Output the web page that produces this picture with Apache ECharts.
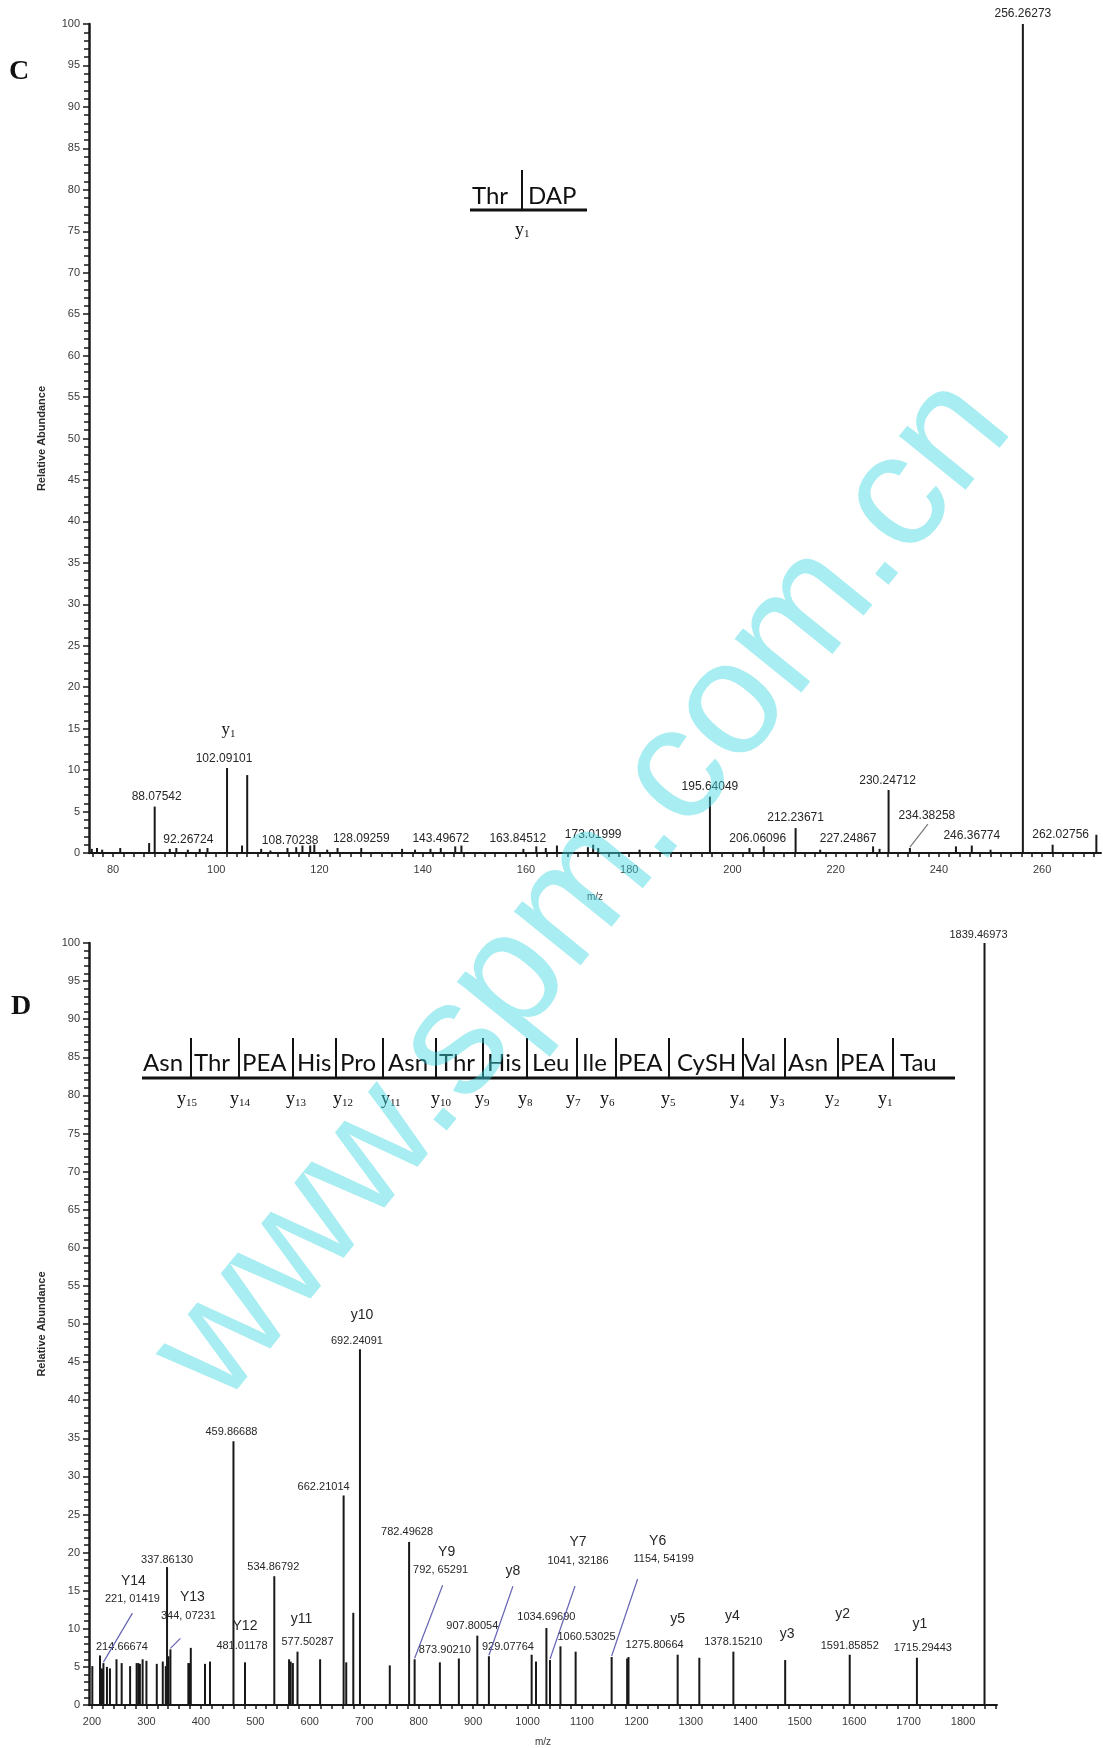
<!DOCTYPE html>
<html>
<head>
<meta charset="utf-8">
<script src="https://cdn.jsdelivr.net/npm/echarts@6/dist/echarts.min.js"></script>
<style>
html,body{margin:0;padding:0;background:#fff}
#chart{width:1103px;height:1748px}
</style>
</head>
<body>
<div id="chart"></div>
<script>
// ---------- Panel C : product-ion spectrum, m/z 75–271 ----------
// annotated peaks (label text is the m/z value itself)
const cLabMz  = [88.07542, 92.26724, 102.09101, 108.70238, 128.09259, 143.49672, 163.84512, 173.01999,
                 195.64049, 206.06096, 212.23671, 227.24867, 230.24712, 234.38258, 246.36774, 256.26273, 262.02756];
const cLabInt = [5.6, 0.6, 10.25, 0.5, 0.6, 0.6, 0.6, 1.0,
                 6.8, 0.8, 3.0, 0.8, 7.6, 0.6, 0.9, 100, 1.0];
// other peaks
const cMz  = [75.9, 76.9, 77.9, 81.4, 87.0, 91.0, 94.5, 96.8, 98.3, 105.0, 106.0, 110.5, 113.8, 115.5, 116.7,
              118.2, 119.0, 121.5, 123.5, 136.0, 138.5, 141.5, 146.3, 147.5, 159.5, 162.0, 166.0, 172.0, 174.0,
              182.0, 203.3, 217.0, 228.5, 243.3, 250.0, 270.5];
const cInt = [0.5, 0.6, 0.4, 0.6, 1.2, 0.5, 0.4, 0.5, 0.6, 0.9, 9.4, 0.3, 0.6, 0.7, 0.9,
              0.9, 1.0, 0.4, 0.6, 0.5, 0.4, 0.5, 0.8, 0.9, 0.5, 0.8, 0.9, 0.7, 0.6,
              0.4, 0.6, 0.4, 0.5, 0.8, 0.4, 2.2];
const cXLabels = [80, 100, 120, 140, 160, 180, 200, 220, 240, 260];
const cIonName = ['y'];
const cIonSub  = ['1'];
const cIonMz   = [102.09101];

// ---------- Panel D : product-ion spectrum, m/z 195–1862 ----------
const dLabMz  = [214.66674, 221.01419, 337.86130, 344.07231, 459.86688, 481.01178, 534.86792, 577.50287,
                 662.21014, 692.24091, 782.49628, 792.65291, 873.90210, 907.80054, 929.07764, 1034.69690,
                 1041.32186, 1060.53025, 1154.54199, 1275.80664, 1378.15210, 1591.85852, 1715.29443, 1839.46973];
const dLabInt = [6.5, 5.5, 18.1, 7.3, 34.6, 5.6, 16.9, 7.0,
                 27.5, 46.7, 21.4, 6.0, 6.1, 9.1, 6.4, 10.1,
                 5.9, 7.7, 6.3, 6.6, 7.0, 6.6, 6.2, 100];
// values written with a comma separator in the annotations
const dCommaMz = [221.01419, 344.07231, 792.65291, 1041.32186, 1154.54199];
const dMz  = [200.6, 216.2, 218.0, 219.6, 227.5, 233.0, 245.0, 254.5, 270.0, 282.0, 285.0, 288.0, 293.0,
              300.0, 319.0, 330.0, 335.5, 340.5, 377.0, 379.0, 381.5, 407.6, 416.8, 562.0, 565.0, 569.0,
              619.0, 667.0, 680.0, 747.0, 839.0, 1007.6, 1015.6, 1088.4, 1183.0, 1185.5, 1315.6, 1473.3];
const dInt = [5.1, 4.6, 4.8, 4.6, 5.0, 4.8, 6.0, 5.5, 5.1, 5.5, 5.5, 5.4, 6.0,
              5.8, 5.4, 5.7, 5.1, 6.4, 5.5, 5.5, 7.5, 5.4, 5.7, 6.0, 5.7, 5.5,
              6.0, 5.6, 12.1, 5.2, 5.6, 6.6, 5.7, 7.0, 6.1, 6.3, 6.2, 5.9];
const dXLabels = [200, 300, 400, 500, 600, 700, 800, 900, 1000, 1100, 1200, 1300, 1400, 1500, 1600, 1700, 1800];
const dIonName = ['Y14', 'Y13', 'Y12', 'y11', 'y10', 'Y9', 'y8', 'Y7', 'Y6', 'y5', 'y4', 'y3', 'y2', 'y1'];
const dIonMz   = [221.01419, 344.07231, 481.01178, 577.50287, 692.24091, 792.65291, 929.07764,
                  1041.32186, 1154.54199, 1275.80664, 1378.15210, 1473.3, 1591.85852, 1715.29443];

// peptide sequences drawn above the spectra
const cResidues = ['Thr', 'DAP'];
const dResidues = ['Asn','Thr','PEA','His','Pro','Asn','Thr','His','Leu','Ile','PEA','CySH','Val','Asn','PEA','Tau'];
const dSeqIons  = ['15','14','13','12','11','10','9','8','7','6','5','4','3','2','1'];

// ---------- layout / styling ----------
const SANS = '"Liberation Sans", Arial, sans-serif';
const SERIF = '"Liberation Serif", "Times New Roman", serif';
const INK = '#181818';
const LEAD_BLUE = '#6464b4';

// label offsets (px, label centre relative to the peak apex)
const cLabOffset = [[2,-10],[12,-8],[-3,-9],[29,-8],[0,-9],[0,-9],[-28,-9],[0,-10],
                    [0,-10],[-6,-8],[0,-10],[-25,-8],[-1,-9],[17,-32],[0,-10],[0,-10],[8,-10]];
const cLabLeader = {13: [1, 8, '#777']};
const cIonOffset = [[5,-38]];

const dLabOffset = [[22,-9],[29,-64],[0,-7],[18,-33],[-2,-9],[-3,-16],[-1,-9],[10,-10],
                    [-20,-8],[-3,-8],[-2,-10],[26,-89],[-14,-9],[-5,-10],[19,-9],[0,-11],
                    [28,-99],[26,-9],[52,-98],[-23,-10],[0,-10],[0,-9],[6,-10],[-6,-8]];
const dLabLeader = {1: [0, 14, LEAD_BLUE], 3: [-8, 22, LEAD_BLUE], 11: [2, 15, LEAD_BLUE],
                    16: [-3, 25, LEAD_BLUE], 18: [-26, 20, LEAD_BLUE]};
const dIonOffset = [[30,-82],[22,-52],[0,-36],[4,-33],[2,-34],[32,-107],[24,-85],[28,-118],
                    [46,-116],[0,-36],[-1,-36],[2,-26],[-7,-41],[3,-34]];
const dIonLeader = {6: [0, 15, LEAD_BLUE]};

function fmtMz(m, commaList) {
  const s = m.toFixed(5);
  return commaList && commaList.indexOf(m) >= 0 ? s.replace('.', ', ') : s;
}
function lookupInt(m, mzA, intA, mzB, intB) {
  let i = mzA.indexOf(m);
  if (i >= 0) return intA[i];
  i = mzB.indexOf(m);
  return i >= 0 ? intB[i] : 0;
}
function range(a, b, step) { const r = []; for (let v = a; v <= b + 1e-9; v += step) r.push(v); return r; }

function txt(text, x, y, font, fill, align, valign, extra) {
  return Object.assign({ type: 'text', x: x, y: y,
    style: { text: text, font: font, fill: fill, textAlign: align, textVerticalAlign: valign,
             align: align, verticalAlign: valign } }, extra || {});
}

function stickSeries(gi, mz, inten, width) {
  return {
    type: 'custom', xAxisIndex: gi, yAxisIndex: gi, silent: true, clip: false, z: 3,
    data: mz.map((m, i) => [m, inten[i]]),
    renderItem(params, api) {
      const b = api.coord([api.value(0), 0]);
      const t = api.coord([api.value(0), api.value(1)]);
      return { type: 'line', shape: { x1: b[0], y1: b[1], x2: t[0], y2: t[1] },
               style: { stroke: INK, lineWidth: width } };
    }
  };
}

// text annotations anchored on peak apexes, optionally with a leader line back to the peak
function labelSeries(gi, mz, inten, texts, offsets, leaders, font, subs) {
  return {
    type: 'custom', xAxisIndex: gi, yAxisIndex: gi, silent: true, clip: false, z: 5,
    data: mz.map((m, i) => [m, inten[i]]),
    renderItem(params, api) {
      const i = params.dataIndex;
      const t = api.coord([api.value(0), api.value(1)]);
      const o = offsets[i] || [0, -9];
      const cx = t[0] + o[0], cy = t[1] + o[1];
      const kids = [];
      if (subs) {
        kids.push(txt(texts[i], cx - 2, cy, font, INK, 'right', 'middle'));
        kids.push(txt(subs[i], cx - 2, cy + 4, '11px ' + SERIF, INK, 'left', 'middle'));
      } else {
        kids.push(txt(texts[i], cx, cy, font, '#262626', 'center', 'middle'));
      }
      const L = leaders && leaders[i];
      if (L) kids.push({ type: 'line', shape: { x1: cx + L[0], y1: cy + L[1], x2: t[0], y2: t[1] - 1 },
                         style: { stroke: L[2], lineWidth: 1.2 } });
      return { type: 'group', children: kids };
    }
  };
}

function yAxisOf(gi) {
  return {
    type: 'value', gridIndex: gi, min: 0, max: 100, interval: 5,
    axisLine: { show: true, lineStyle: { color: INK, width: 2.5 } },
    axisTick: { show: true, length: 6, lineStyle: { color: INK, width: 1.5 } },
    minorTick: { show: true, splitNumber: 5, length: 5, lineStyle: { color: INK, width: 1.5 } },
    splitLine: { show: false },
    axisLabel: { fontSize: 11, color: '#3a3a3a', margin: 9, fontFamily: SANS },
    name: 'Relative Abundance', nameLocation: 'middle', nameRotate: 90, nameGap: 42,
    nameTextStyle: { fontSize: 11, color: '#2a2a2a', fontFamily: SANS, fontWeight: 'bold' }
  };
}
function xAxisOf(gi, min, max, labels, ticks, nameGap) {
  return {
    type: 'value', gridIndex: gi, min: min, max: max,
    axisLine: { show: true, onZero: false, lineStyle: { color: INK, width: 2 } },
    axisTick: { show: true, customValues: ticks, length: 4, lineStyle: { color: INK, width: 1.5 } },
    splitLine: { show: false },
    axisLabel: { customValues: labels, fontSize: 11, color: '#3a3a3a', margin: 11, fontFamily: SANS,
                 formatter: v => String(v) },
    name: 'm/z', nameLocation: 'middle', nameGap: nameGap,
    nameTextStyle: { fontSize: 10, color: '#3a3a3a', fontFamily: SANS }
  };
}

// sequence graphics
const seqFont = '24px Lato, "Open Sans", sans-serif';
const graphics = [];
graphics.push(txt('C', 19, 72, 'bold 28px ' + SERIF, '#111', 'center', 'middle'));
graphics.push(txt('D', 21, 1007, 'bold 28px ' + SERIF, '#111', 'center', 'middle'));

// Thr | DAP
const cSeqLeft = [472, 528];
cResidues.forEach((r, i) => graphics.push(txt(r, cSeqLeft[i], 196, seqFont, '#111', 'left', 'middle')));
graphics.push({ type: 'line', shape: { x1: 470, y1: 210, x2: 587, y2: 210 }, style: { stroke: '#111', lineWidth: 3 } });
graphics.push({ type: 'line', shape: { x1: 522, y1: 170, x2: 522, y2: 210 }, style: { stroke: '#111', lineWidth: 2 } });
graphics.push(txt('y', 524, 230, '18px ' + SERIF, '#111', 'right', 'middle'));
graphics.push(txt('1', 524, 234, '11px ' + SERIF, '#111', 'left', 'middle'));

// Asn|Thr|PEA|... chain
const dSeqLeft = [143,194,242,297,340,388,439,487,532,582,618,677,744,788,840,900];
const dDivX = [191,239,293,336,383,436,483,527,577,616,669,743,785,838,893];
const dIonX = [189,242,298,345,393,443,487,530,578,612,673,742,782,837,890];
dResidues.forEach((r, i) => graphics.push(txt(r, dSeqLeft[i], 1063, seqFont, '#111', 'left', 'middle')));
graphics.push({ type: 'line', shape: { x1: 142, y1: 1078, x2: 955, y2: 1078 }, style: { stroke: '#111', lineWidth: 3 } });
dDivX.forEach(x => graphics.push({ type: 'line', shape: { x1: x, y1: 1038, x2: x, y2: 1078 }, style: { stroke: '#111', lineWidth: 2 } }));
dSeqIons.forEach((s, i) => {
  graphics.push(txt('y', dIonX[i] - 3, 1099, '18px ' + SERIF, '#111', 'right', 'middle'));
  graphics.push(txt(s, dIonX[i] - 3, 1103, '11px ' + SERIF, '#111', 'left', 'middle'));
});

// site watermark
graphics.push({ type: 'text', x: 584, y: 890, rotation: 51 * Math.PI / 180, z: 100,
  style: { text: 'www.spm.com.cn', font: '162px "Liberation Sans", Arial, sans-serif',
           fill: 'rgba(60,215,225,0.45)',
           textAlign: 'center', textVerticalAlign: 'middle',
           align: 'center', verticalAlign: 'middle' } });

const option = {
  animation: false,
  backgroundColor: '#fff',
  grid: [
    { left: 89, top: 24, width: 1012, height: 829, containLabel: false },
    { left: 89, top: 943, width: 908, height: 763, containLabel: false }
  ],
  xAxis: [
    xAxisOf(0, 75.35, 271.4, cXLabels, range(76, 270, 2), 39),
    xAxisOf(1, 194.5, 1862.4, dXLabels, range(200, 1860, 20), 32)
  ],
  yAxis: [yAxisOf(0), yAxisOf(1)],
  series: [
    stickSeries(0, cMz, cInt, 2),
    stickSeries(0, cLabMz, cLabInt, 2),
    labelSeries(0, cLabMz, cLabInt, cLabMz.map(m => fmtMz(m)), cLabOffset, cLabLeader, '12px ' + SANS),
    labelSeries(0, cIonMz, cIonMz.map(m => lookupInt(m, cLabMz, cLabInt, cMz, cInt)), cIonName, cIonOffset, null,
                '17px ' + SERIF, cIonSub),
    stickSeries(1, dMz, dInt, 2),
    stickSeries(1, dLabMz, dLabInt, 2),
    labelSeries(1, dLabMz, dLabInt, dLabMz.map(m => fmtMz(m, dCommaMz)), dLabOffset, dLabLeader, '11px ' + SANS),
    labelSeries(1, dIonMz, dIonMz.map(m => lookupInt(m, dLabMz, dLabInt, dMz, dInt)), dIonName, dIonOffset, dIonLeader,
                '14px ' + SANS)
  ],
  graphic: graphics
};

const chart = echarts.init(document.getElementById('chart'), null, { renderer: 'canvas' });
chart.setOption(option);
</script>
</body>
</html>
